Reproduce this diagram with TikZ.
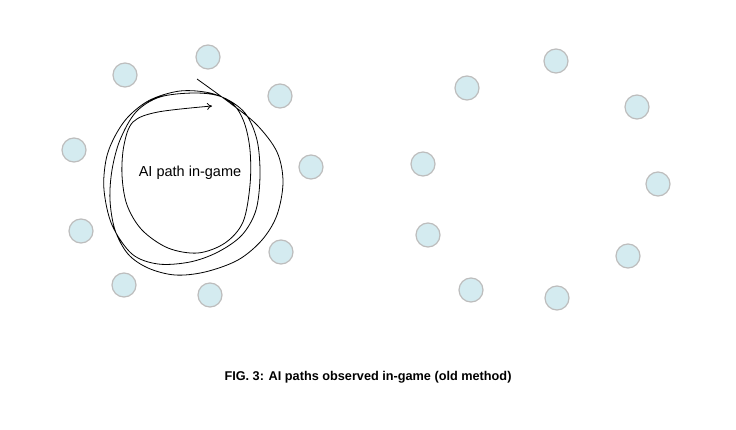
\documentclass[tikz,border=0pt]{standalone}
\usepackage{fontspec}
\setmainfont{Liberation Sans}
\usetikzlibrary{arrows.meta}
\definecolor{dotfill}{HTML}{D4EBF0}
\definecolor{dotline}{HTML}{BDBDBD}
\tikzset{
  dot/.style={circle, fill=dotfill, draw=dotline, line width=1.2pt, minimum size=24pt, inner sep=0pt},
  pathline/.style={black, line width=0.8pt},
  lbl/.style={font=\fontsize{14.5pt}{16pt}\selectfont, inner sep=0pt},
  captxt/.style={font=\bfseries\fontsize{12.7pt}{14pt}\selectfont, inner sep=0pt}
}
\begin{document}
\begin{tikzpicture}[x=1pt,y=-1pt]
\useasboundingbox[fill=white] (0,0) rectangle (736,430);
% left group
\node[dot] (l1) at (208,57) {};
\node[dot] (l2) at (125,75) {};
\node[dot] (l3) at (280,96) {};
\node[dot] (l4) at (74,150) {};
\node[dot] (l5) at (311,167) {};
\node[dot] (l6) at (81,231) {};
\node[dot] (l7) at (281,252) {};
\node[dot] (l8) at (124,285) {};
\node[dot] (l9) at (210,295) {};
% right group
\node[dot] (r1) at (556,61) {};
\node[dot] (r2) at (467,88) {};
\node[dot] (r3) at (637,107) {};
\node[dot] (r4) at (423,164) {};
\node[dot] (r5) at (658,184) {};
\node[dot] (r6) at (428,235) {};
\node[dot] (r7) at (628,256) {};
\node[dot] (r8) at (471,290) {};
\node[dot] (r9) at (557,298) {};
% path
\draw[pathline, -{To[length=5pt,width=7pt]}] plot[smooth, tension=0.55] coordinates {
 (197,79) (230,103) (257,125) (277,152) (283,182) (277,215) (262,240) (238,260)
 (205,272) (175,275) (148,268) (128,254) (115,230) (110,200) (112,170) (120,140)
 (136,112) (160,97) (195,93) (222,97)
 (245,113) (257,140) (260,175) (256,210) (242,235) (218,252) (190,262) (158,264)
 (132,254) (112,225) (104,190) (106,160) (114,138) (128,117) (150,100) (180,91)
 (210,93) (232,103)
 (244,122) (250,150) (250,185) (243,222) (225,243) (198,253) (168,248) (142,230)
 (127,205) (122,175) (124,145) (133,122) (158,112) (212,106)
};
\node[lbl] (t) at (190,173) {AI path in-game};
\node[captxt] (c) at (368,377) {FIG. 3: AI paths observed in-game (old method)};
\end{tikzpicture}
\end{document}
